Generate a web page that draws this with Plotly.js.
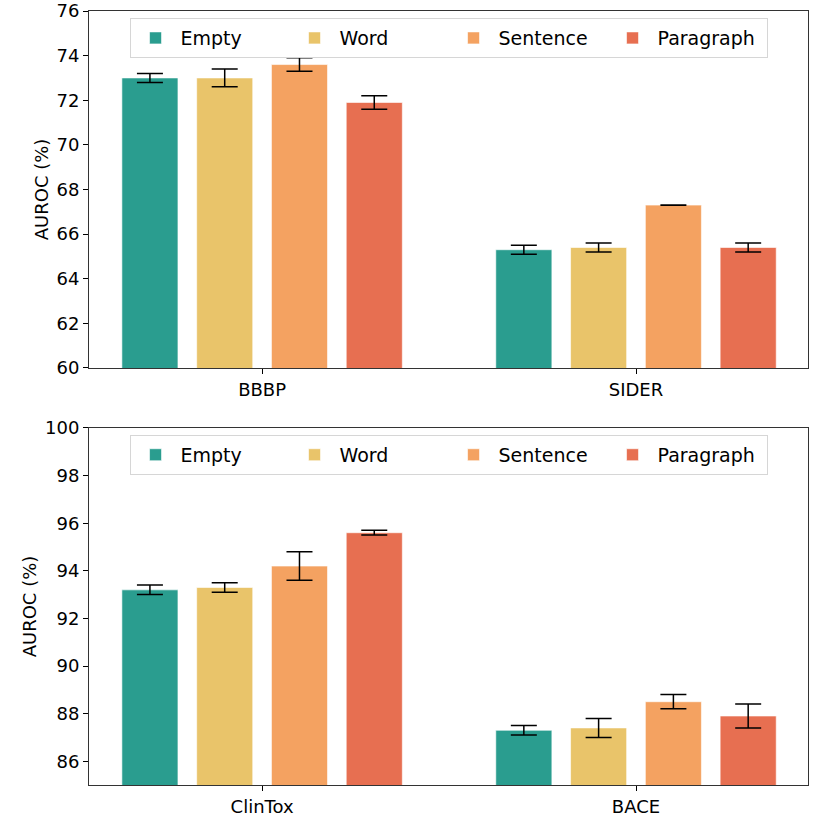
<!DOCTYPE html>
<html>
<head>
<meta charset="utf-8">
<script src="https://cdn.plot.ly/plotly-3.0.1.min.js"></script>
<style>
  html, body { margin: 0; padding: 0; background: #fff; }
  #myPlot { width: 830px; height: 821px; }
</style>
</head>
<body>
<div id="myPlot"></div>
<script>
// prompt types, one bar per group
var prompts = ['Empty', 'Word', 'Sentence', 'Paragraph'];
var colors = ['#2a9d8f', '#e9c46a', '#f4a261', '#e76f51'];

// top panel
var top_datasets = ['BBBP', 'SIDER'];
var top_mean = [
  [73.0, 65.3],
  [73.0, 65.4],
  [73.6, 67.3],
  [71.9, 65.4]
];
var top_std = [
  [0.2, 0.2],
  [0.4, 0.2],
  [0.3, 0.01],
  [0.3, 0.2]
];

// bottom panel
var bottom_datasets = ['ClinTox', 'BACE'];
var bottom_mean = [
  [93.2, 87.3],
  [93.3, 87.4],
  [94.2, 88.5],
  [95.6, 87.9]
];
var bottom_std = [
  [0.2, 0.2],
  [0.2, 0.4],
  [0.6, 0.3],
  [0.1, 0.5]
];

var font_family = 'DejaVu Sans, sans-serif';

function make_traces(datasets, means, stds, xa, ya, leg){
  var traces = [];
  for(var i = 0; i < prompts.length; i++){
    traces.push({
      x: [0, 1],
      y: means[i],
      name: prompts[i],
      type: 'bar',
      xaxis: xa,
      yaxis: ya,
      legend: leg,
      marker: {color: colors[i], line: {color: 'rgba(255,255,255,0.6)', width: 1}},
      error_y: {type: 'data', array: stds[i], visible: true,
                color: '#000', thickness: 1.5, width: 13},
      hoverinfo: 'y'
    });
  }
  return traces;
}

var traces = make_traces(top_datasets, top_mean, top_std, 'x', 'y', 'legend')
  .concat(make_traces(bottom_datasets, bottom_mean, bottom_std, 'x2', 'y2', 'legend2'));

function xaxis(domain, labels, anchor){
  return {
    domain: domain,
    anchor: anchor,
    range: [-0.463, 1.46],
    tickvals: [0, 1],
    ticktext: labels,
    ticks: 'outside',
    ticklen: 5,
    tickcolor: '#000',
    showline: true,
    linecolor: '#333',
    linewidth: 1,
    mirror: true,
    showgrid: false,
    zeroline: false,
    tickfont: {family: font_family, size: 18, color: '#000'}
  };
}

function yaxis(domain, range, dtick, anchor){
  return {
    domain: domain,
    anchor: anchor,
    range: range,
    dtick: dtick,
    tick0: 0,
    ticks: 'outside',
    ticklen: 5,
    tickcolor: '#000',
    showline: true,
    linecolor: '#333',
    linewidth: 1,
    mirror: true,
    showgrid: false,
    zeroline: false,
    tickfont: {family: font_family, size: 18, color: '#000'},
    title: {text: 'AUROC (%)', standoff: 3,
            font: {family: font_family, size: 18, color: '#000'}}
  };
}

function legend(y){
  return {
    orientation: 'h',
    x: 0.5404,
    xanchor: 'center',
    y: y,
    yanchor: 'top',
    bgcolor: 'rgba(255,255,255,0.8)',
    bordercolor: '#d6d6d6',
    borderwidth: 1,
    itemwidth: 40,
    entrywidth: 104,
    entrywidthmode: 'pixels',
    font: {family: font_family, size: 19, color: '#000'}
  };
}

var layout = {
  width: 830,
  height: 821,
  margin: {l: 0, r: 0, t: 0, b: 0},
  paper_bgcolor: '#fff',
  plot_bgcolor: '#fff',
  barmode: 'group',
  bargap: 0.2,
  bargroupgap: 0.25,
  showlegend: true,
  xaxis: xaxis([0.1072, 0.9735], top_datasets, 'y'),
  yaxis: yaxis([0.5518, 0.9866], [60, 76], 2, 'x'),
  xaxis2: xaxis([0.1072, 0.9735], bottom_datasets, 'y2'),
  yaxis2: yaxis([0.0438, 0.4787], [85, 100], 2, 'x2'),
  legend: legend(0.978),
  legend2: legend(0.4703)
};

Plotly.newPlot('myPlot', traces, layout, {displayModeBar: false});
</script>
</body>
</html>
